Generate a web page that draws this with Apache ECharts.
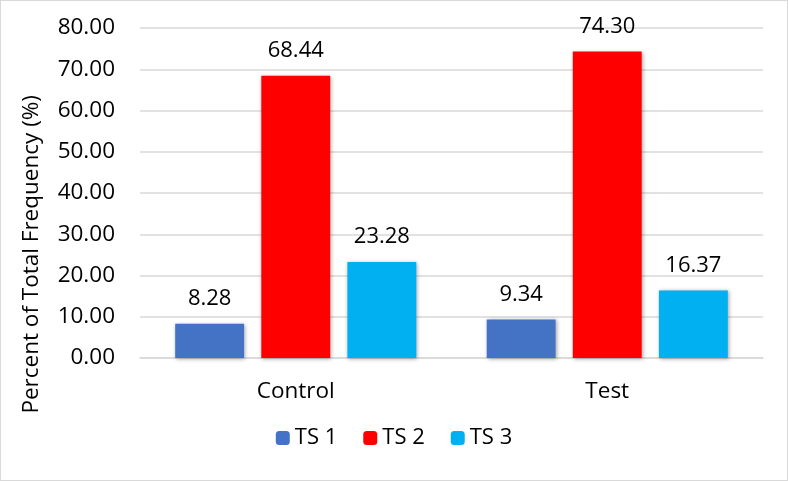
<!DOCTYPE html>
<html>
<head>
<meta charset="utf-8">
<script src="https://cdn.jsdelivr.net/npm/echarts@6/dist/echarts.min.js"></script>
<style>
  html, body { margin: 0; padding: 0; background: #fff; }
  #chart { width: 786px; height: 479px; border: 1px solid #d9d9d9; }
</style>
</head>
<body>
<div id="chart"></div>
<script>
    var categories = ['Control', 'Test'];
    var seriesNames = ['TS 1', 'TS 2', 'TS 3'];
    var ts1 = [8.28, 9.34];
    var ts2 = [68.44, 74.30];
    var ts3 = [23.28, 16.37];
    var colors = ['#4472C4', '#FF0000', '#00B0F0'];

    var myChart = echarts.init(document.getElementById('chart'));
    var font = 'Open Sans';

    function makeSeries(name, data, color) {
        return {
            name: name,
            type: 'bar',
            data: data,
            barGap: '25%',
            barCategoryGap: '22.6%',
            itemStyle: {
                color: color,
                shadowBlur: 4,
                shadowColor: 'rgba(0,0,0,0.35)',
                shadowOffsetX: 1,
                shadowOffsetY: 1
            },
            label: {
                show: true,
                position: 'top',
                distance: 14,
                color: '#000',
                fontFamily: font,
                fontSize: 22,
                formatter: function (p) { return p.value.toFixed(2); }
            }
        };
    }

    var option = {
        animation: false,
        grid: { left: 139, right: 24, top: 27, bottom: 122 },
        legend: {
            data: seriesNames,
            bottom: 26,
            left: 'center',
            itemWidth: 14,
            itemHeight: 14,
            itemGap: 26,
            textStyle: { fontFamily: font, fontSize: 22, color: '#000' }
        },
        // axis title sits lower than the plot centre in the original
        graphic: [{
            type: 'text',
            left: 19,
            top: 94,
            rotation: Math.PI / 2,
            style: {
                text: 'Percent of Total Frequency (%)',
                fill: '#000',
                font: '22.5px "Open Sans"'
            }
        }],
        xAxis: {
            type: 'category',
            data: categories,
            axisLine: { lineStyle: { color: '#d9d9d9', width: 1.5 } },
            axisTick: { show: false },
            axisLabel: { color: '#000', fontFamily: font, fontSize: 22.5, margin: 22 }
        },
        yAxis: {
            type: 'value',
            min: 0,
            max: 80,
            interval: 10,
            axisLine: { show: false },
            axisTick: { show: false },
            splitLine: { lineStyle: { color: '#d9d9d9', width: 1.5 } },
            axisLabel: {
                color: '#000', fontFamily: font, fontSize: 22.5, margin: 25,
                formatter: function (v) { return v.toFixed(2); }
            }
        },
        series: [
            makeSeries(seriesNames[0], ts1, colors[0]),
            makeSeries(seriesNames[1], ts2, colors[1]),
            makeSeries(seriesNames[2], ts3, colors[2])
        ]
    };
    myChart.setOption(option);
</script>
</body>
</html>
